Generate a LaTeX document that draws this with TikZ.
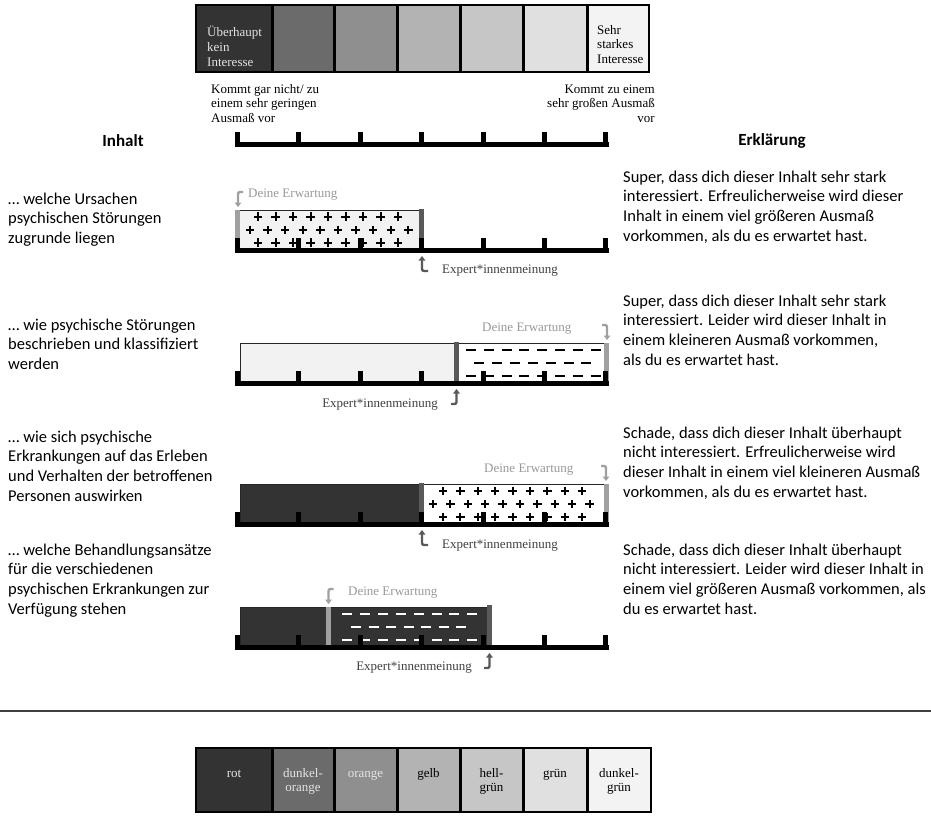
\documentclass[tikz,border=0pt]{standalone}
\usepackage{fontspec}
\setmainfont{Liberation Serif}
\newfontfamily\calfnt{Carlito}
\usetikzlibrary{arrows.meta}
\definecolor{ca}{HTML}{333333}
\definecolor{cb}{HTML}{6B6B6B}
\definecolor{cc}{HTML}{8F8F8F}
\definecolor{cd}{HTML}{B3B3B3}
\definecolor{ce}{HTML}{C6C6C6}
\definecolor{cf}{HTML}{E0E0E0}
\definecolor{cg}{HTML}{F3F3F3}
\definecolor{lightbar}{HTML}{F2F2F2}
\definecolor{expcol}{HTML}{595959}
\definecolor{erwcol}{HTML}{A0A0A0}
\definecolor{erwtxt}{HTML}{999999}
\definecolor{lighttxt}{HTML}{E4E4E4}
\newcommand\mystrutT{\rule{0pt}{12.35pt}}
\newcommand\mystrutC{\rule{0pt}{15.5pt}}
\newcommand\mypl[2]{\draw[plusln] ({#1-4.2},{#2}) -- ({#1+4.2},{#2}) ({#1},{#2-4.2}) -- ({#1},{#2+4.2});}
\newcommand\mydsh[3][black]{\draw[dsh,#1] ({#2-5},{#3}) -- ({#2+5},{#3});}
\newcommand\myscale[1]{\fill[black] (235,#1) rectangle (609,#1+5);
  \foreach \t in {0,...,6}{\fill[black] ({235+61.4*\t},#1-10) rectangle ({240+61.4*\t},#1+5);}}
\begin{document}
\begin{tikzpicture}[x=1pt,y=-1pt,
  tms/.style={font=\fontsize{13}{14.6}\selectfont, inner sep=0pt},
  body/.style={font=\calfnt\fontsize{16.5}{19.7}\selectfont, inner sep=0pt, anchor=north west, align=left},
  head/.style={font=\calfnt\bfseries\fontsize{17}{20}\selectfont, inner sep=0pt},
  outl/.style={draw=black!85, line width=0.8pt},
  arr/.style={line width=2.4pt, rounded corners=2pt, -{Triangle[length=4.5pt,width=6.5pt]}},
  plusln/.style={line width=2pt},
  dsh/.style={line width=2.4pt},
  divl/.style={line width=3pt},
  frm/.style={line width=2.5pt},
]
\fill[white] (0,0) rectangle (931,815);
\useasboundingbox (0,0) rectangle (931,815);

% ---------- top legend ----------
\fill[ca] (196,5) rectangle (272,72);
\fill[cb] (272,5) rectangle (334,72);
\fill[cc] (334,5) rectangle (397,72);
\fill[cd] (397,5) rectangle (460,72);
\fill[ce] (460,5) rectangle (523,72);
\fill[cf] (523,5) rectangle (587,72);
\fill[cg] (587,5) rectangle (649,72);
\foreach \x in {272,334,397,460,523,587}{\draw[divl] (\x,5) -- (\x,72);}
\draw[frm] (196,5) rectangle (649,72);
\node[tms, anchor=north west, align=left, text=lighttxt, font=\fontsize{13}{15}\selectfont] (lg1) at (207,23.6) {\mystrutT Überhaupt\\kein\\Interesse};
\node[tms, anchor=north west, align=left] (lg7) at (597,21.6) {\mystrutT Sehr\\starkes\\Interesse};

\node[tms, anchor=north west, align=left] (klow) at (211,80.6) {\mystrutT Kommt gar nicht/ zu\\einem sehr geringen\\Ausmaß vor};
\node[tms, anchor=north east, align=right] (khigh) at (655,80.6) {\mystrutT Kommt zu einem\\sehr großen Ausmaß\\vor};

\myscale{142}

\node[head] (hinhalt) at (123,141) {Inhalt};
\node[head] (herkl) at (772,141) {Erklärung};

% ---------- row 1 ----------
\draw[outl, fill=lightbar] (237.5,210) rectangle (421.5,248);
\foreach \k in {0,...,8}{\mypl{258+17.5*\k}{216.5}\mypl{258+17.5*\k}{242.5}}
\foreach \k in {0,...,9}{\mypl{250+17.6*\k}{230}}
\fill[erwcol] (235,210) rectangle (240,248);
\fill[expcol] (419,209) rectangle (424,248);
\myscale{248}
\coordinate (e1a) at (243,192); \coordinate (e1b) at (238,192); \coordinate (e1c) at (238,207);
\draw[arr, erwcol] (e1a) -- (e1b) -- (e1c);
\node[tms, anchor=west, text=erwtxt] (d1) at (248,195) {Deine Erwartung};
\coordinate (x1a) at (428,271); \coordinate (x1b) at (422,271); \coordinate (x1c) at (422,256);
\draw[arr, expcol] (x1a) -- (x1b) -- (x1c);
\node[tms, anchor=west, text=black!75] (m1) at (442,271) {Expert*innenmeinung};

% ---------- row 2 ----------
\draw[outl, fill=lightbar] (240,343) rectangle (456.5,381);
\draw[outl, fill=white] (456.5,343) rectangle (607,381);
\foreach \k in {0,...,7}{\mydsh{471+17.8*\k}{350}\mydsh{471+17.8*\k}{376}}
\foreach \k in {0,...,6}{\mydsh{479+17.9*\k}{363}}
\fill[expcol] (454,342) rectangle (459,381);
\fill[erwcol] (604,343) rectangle (609,381);
\myscale{381}
\coordinate (e2a) at (602,325); \coordinate (e2b) at (607,325); \coordinate (e2c) at (607,340);
\draw[arr, erwcol] (e2a) -- (e2b) -- (e2c);
\node[tms, anchor=west, text=erwtxt] (d2) at (482,329) {Deine Erwartung};
\coordinate (x2a) at (451,404); \coordinate (x2b) at (456.5,404); \coordinate (x2c) at (456.5,389);
\draw[arr, expcol] (x2a) -- (x2b) -- (x2c);
\node[tms, anchor=east, text=black!75] (m2) at (438,405) {Expert*innenmeinung};

% ---------- row 3 ----------
\draw[outl, fill=ca] (240,484) rectangle (421.5,522);
\draw[outl, fill=white] (421.5,484) rectangle (606,522);
\foreach \k in {0,...,8}{\mypl{443+17.4*\k}{491}\mypl{443+17.4*\k}{517}}
\foreach \k in {0,...,9}{\mypl{433+17.4*\k}{504}}
\fill[expcol] (419,483) rectangle (424,522);
\fill[erwcol] (603.5,484) rectangle (608.5,522);
\myscale{522}
\coordinate (e3a) at (601,466); \coordinate (e3b) at (606,466); \coordinate (e3c) at (606,481);
\draw[arr, erwcol] (e3a) -- (e3b) -- (e3c);
\node[tms, anchor=west, text=erwtxt] (d3) at (484,470) {Deine Erwartung};
\coordinate (x3a) at (428,545); \coordinate (x3b) at (422,545); \coordinate (x3c) at (422,530);
\draw[arr, expcol] (x3a) -- (x3b) -- (x3c);
\node[tms, anchor=west, text=black!75] (m3) at (442,546) {Expert*innenmeinung};

% ---------- row 4 ----------
\draw[outl, fill=ca] (240,607) rectangle (328.5,645);
\draw[outl, fill=ca] (328.5,607) rectangle (489.5,645);
\foreach \k in {0,...,7}{\mydsh[white]{347+17.9*\k}{614}\mydsh[white]{347+17.9*\k}{640}}
\foreach \k in {0,...,6}{\mydsh[white]{356+17.5*\k}{627}}
\fill[erwcol] (326,607) rectangle (331,645);
\fill[expcol] (487,605) rectangle (492,645);
\myscale{645}
\coordinate (e4a) at (333.5,589); \coordinate (e4b) at (328.5,589); \coordinate (e4c) at (328.5,604);
\draw[arr, erwcol] (e4a) -- (e4b) -- (e4c);
\node[tms, anchor=west, text=erwtxt] (d4) at (348,593) {Deine Erwartung};
\coordinate (x4a) at (484,668); \coordinate (x4b) at (489.5,668); \coordinate (x4c) at (489.5,653);
\draw[arr, expcol] (x4a) -- (x4b) -- (x4c);
\node[tms, anchor=east, text=black!75] (m4) at (472,668) {Expert*innenmeinung};

% ---------- left texts ----------
\node[body] (l1) at (8,188.5) {\mystrutC … welche Ursachen\\psychischen Störungen\\zugrunde liegen};
\node[body] (l2) at (8,314.5) {\mystrutC … wie psychische Störungen\\beschrieben und klassifiziert\\werden};
\node[body] (l3) at (8,426.5) {\mystrutC … wie sich psychische\\Erkrankungen auf das Erleben\\und Verhalten der betroffenen\\Personen auswirken};
\node[body] (l4) at (8,539.5) {\mystrutC … welche Behandlungsansätze\\für die verschiedenen\\psychischen Erkrankungen zur\\Verfügung stehen};

% ---------- right texts ----------
\node[body] (r1) at (623,166.5) {\mystrutC Super, dass dich dieser Inhalt sehr stark\\interessiert. Erfreulicherweise wird dieser\\Inhalt in einem viel größeren Ausmaß\\vorkommen, als du es erwartet hast.};
\node[body] (r2) at (623,290.5) {\mystrutC Super, dass dich dieser Inhalt sehr stark\\interessiert. Leider wird dieser Inhalt in\\einem kleineren Ausmaß vorkommen,\\als du es erwartet hast.};
\node[body] (r3) at (623,422.5) {\mystrutC Schade, dass dich dieser Inhalt überhaupt\\nicht interessiert. Erfreulicherweise wird\\dieser Inhalt in einem viel kleineren Ausmaß\\vorkommen, als du es erwartet hast.};
\node[body] (r4) at (623,539.5) {\mystrutC Schade, dass dich dieser Inhalt überhaupt\\nicht interessiert. Leider wird dieser Inhalt in\\einem viel größeren Ausmaß vorkommen, als\\du es erwartet hast.};

% ---------- separator ----------
\coordinate (sepl) at (0,711); \coordinate (sepr) at (931,711);
\draw[line width=1.5pt, black!75] (sepl) -- (sepr);

% ---------- bottom legend ----------
\fill[ca] (196,748) rectangle (272,812);
\fill[cb] (272,748) rectangle (334,812);
\fill[cc] (334,748) rectangle (397,812);
\fill[cd] (397,748) rectangle (460,812);
\fill[ce] (460,748) rectangle (523,812);
\fill[cf] (523,748) rectangle (587,812);
\fill[cg] (587,748) rectangle (651,812);
\foreach \x in {272,334,397,460,523,587}{\draw[divl] (\x,748) -- (\x,812);}
\draw[frm] (196,748) rectangle (651,812);
\node[tms, anchor=north, align=center, text=lighttxt] (b1) at (234,764.6) {\mystrutT rot};
\node[tms, anchor=north, align=center, text=lighttxt] (b2) at (303,764.6) {\mystrutT dunkel-\\orange};
\node[tms, anchor=north, align=center, text=lighttxt] (b3) at (365.5,764.6) {\mystrutT orange};
\node[tms, anchor=north, align=center] (b4) at (428.5,764.6) {\mystrutT gelb};
\node[tms, anchor=north, align=center] (b5) at (491.5,764.6) {\mystrutT hell-\\grün};
\node[tms, anchor=north, align=center] (b6) at (555,764.6) {\mystrutT grün};
\node[tms, anchor=north, align=center] (b7) at (619,764.6) {\mystrutT dunkel-\\grün};
\end{tikzpicture}
\end{document}
